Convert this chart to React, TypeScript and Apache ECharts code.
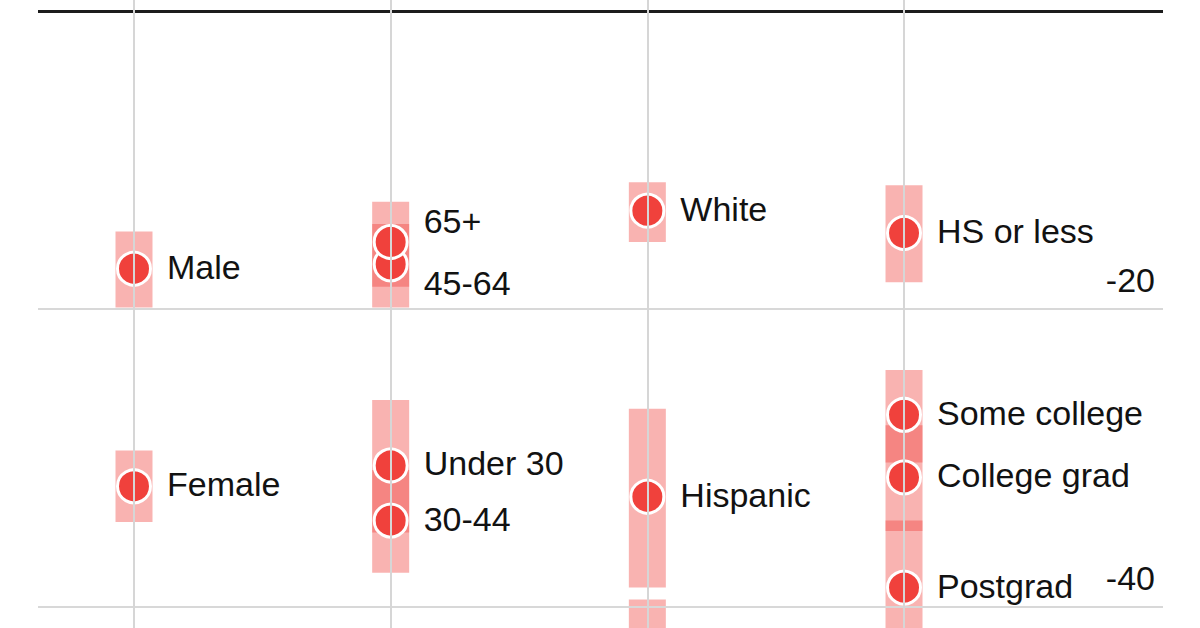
import React, { useEffect, useRef } from "react";
import * as echarts from "echarts";

// Column index: 0 = gender, 1 = age, 2 = race, 3 = education
const names = ["Male", "Female", "45-64", "65+", "Under 30", "30-44", "White", "Hispanic", "Black", "HS or less", "Some college", "College grad", "Postgrad"];
const groups = [0, 0, 1, 1, 1, 1, 2, 2, 2, 3, 3, 3, 3];
const values = [-17.3, -31.9, -17.0, -15.5, -30.5, -34.2, -13.4, -32.6, -48.0, -14.9, -27.1, -31.3, -38.7];
const lows = [-19.9, -34.3, -19.9, -18.5, -35.0, -37.7, -15.5, -38.7, -56.5, -18.2, -30.3, -34.9, -43.3];
const highs = [-14.8, -29.5, -14.3, -12.8, -26.1, -30.8, -11.5, -26.7, -39.5, -11.7, -24.1, -27.8, -34.2];
const yTicks = [-20, -40];
const xTicks = [0, 1, 2, 3];

const labelShift: Record<string, number> = { "65+": -21, "45-64": 19 };

const FONT = "'Liberation Sans', Arial, sans-serif";
const RED = "#f0413c";

export default function App() {
  const ref = useRef<HTMLDivElement>(null);
  useEffect(() => {
    if (!ref.current) return;
    const chart = echarts.init(ref.current, undefined, { renderer: "svg" });
    const option: any = {
      animation: false,
      grid: { left: 38, right: 37, top: 0, bottom: 0 },
      xAxis: { type: "value", min: -0.374, max: 4.009, show: false },
      yAxis: { type: "value", min: -41.41, max: 0.74, show: false },
      series: [
        {
          type: "line",
          data: [],
          z: 1,
          silent: true,
          markLine: {
            silent: true,
            symbol: "none",
            animation: false,
            data: [
              { yAxis: 0, lineStyle: { color: "#1c1c1c", width: 3, type: "solid" }, label: { show: false } },
              ...yTicks.map((t) => ({
                yAxis: t,
                lineStyle: { color: "#d8d8d8", width: 2, type: "solid" },
                label: {
                  show: true,
                  position: "insideEndTop",
                  distance: [8, 12],
                  formatter: String(t),
                  fontSize: 34,
                  fontFamily: FONT,
                  color: "#121212",
                },
              })),
              ...xTicks.map((t) => ({
                xAxis: t,
                lineStyle: { color: "#d6d6d6", width: 2, type: "solid" },
                label: { show: false },
              })),
            ],
          },
        },
        {
          type: "custom",
          z: 2,
          clip: true,
          silent: true,
          data: names.map((_, i) => [groups[i], lows[i], highs[i]]),
          encode: { x: 0, y: [1, 2] },
          renderItem: (params: any, api: any) => {
            const x = api.value(0);
            const top = api.coord([x, api.value(2)]);
            const bot = api.coord([x, api.value(1)]);
            return {
              type: "rect",
              shape: { x: top[0] - 18.5, y: top[1], width: 37, height: bot[1] - top[1] },
              style: { fill: "rgba(240,65,60,0.4)" },
            };
          },
        },
        {
          type: "scatter",
          z: 3,
          clip: true,
          silent: true,
          symbolSize: 33,
          itemStyle: { color: RED, borderColor: "#ffffff", borderWidth: 3, opacity: 1 },
          label: {
            show: true,
            position: "right",
            distance: 15,
            formatter: (p: any) => p.name,
            fontSize: 34,
            fontFamily: FONT,
            color: "#121212",
            textBorderColor: "#ffffff",
            textBorderWidth: 3,
          },
          data: names.map((n, i) => ({
            name: n,
            value: [groups[i], values[i]],
            label: { offset: [0, labelShift[n] !== undefined ? labelShift[n] : -2] },
          })),
        },
      ],
    };
    chart.setOption(option);
    return () => chart.dispose();
  }, []);
  return (
    <div
      ref={ref}
      style={{ position: "fixed", left: 0, top: 0, width: 1200, height: 628, background: "#fff" }}
    />
  );
}
